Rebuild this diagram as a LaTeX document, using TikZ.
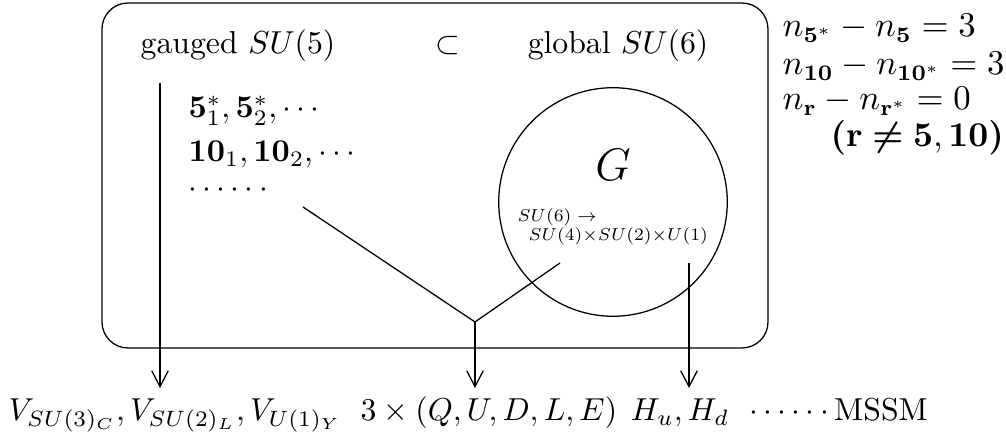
\documentclass[tikz,border=0pt]{standalone}
\usepackage{amsmath,amssymb}
\usetikzlibrary{arrows.meta,positioning}
\tikzset{
  frame/.style={draw, rounded corners=8.2pt},
  txt/.style={inner sep=0pt, anchor=base},
  smalltxt/.style={inner sep=0pt, anchor=base west},
  eqtxt/.style={smalltxt, font=\fontsize{10.6}{13}\selectfont},
  group/.style={draw, circle, minimum size=72pt, inner sep=0pt},
  flow/.style={-{Straight Barb[length=5pt,width=5.2pt]}},
  link/.style={draw},
}
\newcommand{\tinymath}[1]{\scalebox{0.78}{$\scriptstyle #1$}}

\begin{document}
\begin{tikzpicture}[x=0.315pt, y=-0.315pt]
  \useasboundingbox (0,0) rectangle (1006,435);
  % outer box
  \draw[frame] (102,3) rectangle (768,348);
  \node[txt] (gauged) at (238,54) {gauged $SU(5)$};
  \node[txt] (subset) at (448,54) {$\subset$};
  \node[txt] (global) at (618,54) {global $SU(6)$};
  % representations
  \node[smalltxt] (fives) at (188,118) {$\mathbf{5}^*_1, \mathbf{5}^*_2, \cdots$};
  \node[smalltxt] (tens) at (188,162) {$\mathbf{10}_1, \mathbf{10}_2, \cdots$};
  \node[smalltxt] (more) at (188,198) {$\cdots\cdots$};
  % subgroup G
  \node[group] (grp) at (613,202) {};
  \node[txt, font=\Large] (gname) at (613,181) {$G$};
  \node[smalltxt] (brk) at (517,222) {\tinymath{SU(6)\;\rightarrow}};
  \node[smalltxt] (sub) at (528,241) {\tinymath{SU(4){\times}SU(2){\times}U(1)}};
  % bottom row
  \node[txt] (vec) at (175,421) {$V_{SU(3)_C}, V_{SU(2)_L}, V_{U(1)_Y}$};
  \node[txt] (matter) at (489,421) {$3 \times (Q, U, D, L, E)$};
  \node[txt] (higgs) at (680,421) {$H_u, H_d$};
  \node[txt] (etc) at (792,421) {$\cdots\cdots$};
  \node[txt] (mssm) at (881,421) {MSSM};
  % anomaly conditions
  \node[eqtxt] (eqa) at (782,37) {$n_{\mathbf{5}^*} - n_{\mathbf{5}} = 3$};
  \node[eqtxt] (eqb) at (782,75) {$n_{\mathbf{10}} - n_{\mathbf{10}^*} = 3$};
  \node[eqtxt] (eqc) at (782,110) {$n_{\mathbf{r}} - n_{\mathbf{r}^*} = 0$};
  \node[eqtxt] (eqd) at (830,147) {$\boldsymbol{(}\mathbf{r} \boldsymbol{\neq} \mathbf{5}, \mathbf{10}\boldsymbol{)}$};
  % connectors
  \coordinate (gtop) at (160,83);
  \coordinate (moreend) at (303,207);
  \coordinate (subend) at (560,263);
  \coordinate (fork) at (475,322);
  \coordinate (htop) at (689,263);
  \coordinate (vecin) at (160,388);
  \coordinate (matin) at (475,388);
  \coordinate (higin) at (689,388);
  \draw[link] (moreend) -- (fork) -- (subend);
  \draw[flow] (gtop) -- (vecin);
  \draw[flow] (fork) -- (matin);
  \draw[flow] (htop) -- (higin);
\end{tikzpicture}
\end{document}
